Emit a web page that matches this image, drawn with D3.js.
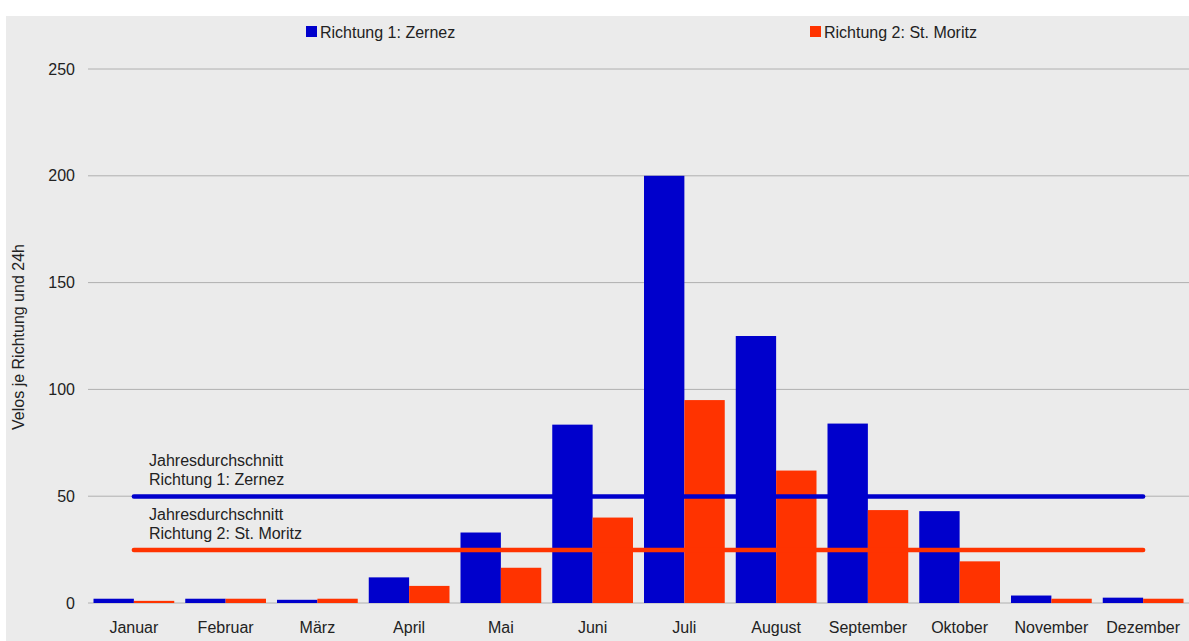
<!DOCTYPE html>
<html><head><meta charset="utf-8">
<script src="https://cdn.jsdelivr.net/npm/d3@7"></script>
<style>html,body{margin:0;padding:0;background:#fff;}svg{display:block;font-family:"Liberation Sans",Arial,sans-serif;}</style>
</head><body>
<svg id="c" width="1189" height="641"></svg>
<script>
const months = ["Januar","Februar","März","April","Mai","Juni","Juli","August","September","Oktober","November","Dezember"];
const zernez = [2, 2, 1.5, 12, 33, 83.5, 200, 125, 84, 43, 3.5, 2.5];
const moritz = [1, 2, 2, 8, 16.5, 40, 95, 62, 43.5, 19.5, 2, 2];
const avgZernez = 49.9;
const avgMoritz = 24.8;
const seriesNames = ["Richtung 1: Zernez", "Richtung 2: St. Moritz"];
const avgLabels = [["Jahresdurchschnitt","Richtung 1: Zernez"],["Jahresdurchschnitt","Richtung 2: St. Moritz"]];
const yTicks = [0, 50, 100, 150, 200, 250];
const colors = ["#0000cc", "#ff3300"];
const FS = 16;

const svg = d3.select("#c");
svg.append("rect").attr("x",6).attr("y",16).attr("width",1189-6).attr("height",641-16).attr("fill","#ebebeb");

const x = d3.scaleBand().domain(months).range([88, 1189]).padding(0);
const y = d3.scaleLinear().domain([0, 250]).range([603, 69]);
const barW = x.bandwidth() * 0.44;

// gridlines
svg.append("g").selectAll("line").data(yTicks).join("line")
  .attr("x1", 88).attr("x2", 1189)
  .attr("y1", d => y(d)).attr("y2", d => y(d))
  .attr("stroke", "#b0b0b0").attr("stroke-width", 1);

// y tick labels
svg.append("g").selectAll("text").data(yTicks).join("text")
  .attr("x", 75).attr("y", d => y(d)).attr("dy", "0.35em")
  .attr("text-anchor", "end").attr("font-size", FS).attr("fill", "#222")
  .text(d => d);

// bars
const series = [zernez, moritz];
series.forEach((vals, si) => {
  svg.append("g").selectAll("rect").data(vals).join("rect")
    .attr("x", (d, i) => x(months[i]) + x.bandwidth()/2 + (si === 0 ? -barW : 0))
    .attr("width", barW)
    .attr("y", d => y(d))
    .attr("height", d => y(0) - y(d))
    .attr("fill", colors[si]);
});

// x labels
svg.append("g").selectAll("text").data(months).join("text")
  .attr("x", d => x(d) + x.bandwidth()/2).attr("y", 627).attr("dy", "0.35em")
  .attr("text-anchor", "middle").attr("font-size", FS).attr("fill", "#222")
  .text(d => d);

// average lines
const avgs = [avgZernez, avgMoritz];
const xStart = x(months[0]) + x.bandwidth()/2;
const xEnd = x(months[months.length-1]) + x.bandwidth()/2;
avgs.forEach((a, i) => {
  svg.append("line").attr("x1", xStart).attr("x2", xEnd)
    .attr("y1", y(a)).attr("y2", y(a))
    .attr("stroke", colors[i]).attr("stroke-width", 4.5).attr("stroke-linecap", "round");
  const t = svg.append("text").attr("font-size", FS).attr("fill", "#222");
  avgLabels[i].forEach((line, j) => {
    t.append("tspan").attr("x", 149).attr("y", y(a) - 36 + j * 19).attr("dy", "0.35em").text(line);
  });
});

// legend
const legX = [306, 810];
seriesNames.forEach((n, i) => {
  svg.append("rect").attr("x", legX[i]).attr("y", 26).attr("width", 11).attr("height", 11).attr("fill", colors[i]);
  svg.append("text").attr("x", legX[i] + 14).attr("y", 32).attr("dy", "0.35em")
    .attr("font-size", FS).attr("fill", "#222").text(n);
});

// y axis title
svg.append("text").attr("transform", "translate(24,337) rotate(-90)")
  .attr("text-anchor", "middle").attr("font-size", FS).attr("fill", "#222")
  .text("Velos je Richtung und 24h");
</script>
</body></html>
